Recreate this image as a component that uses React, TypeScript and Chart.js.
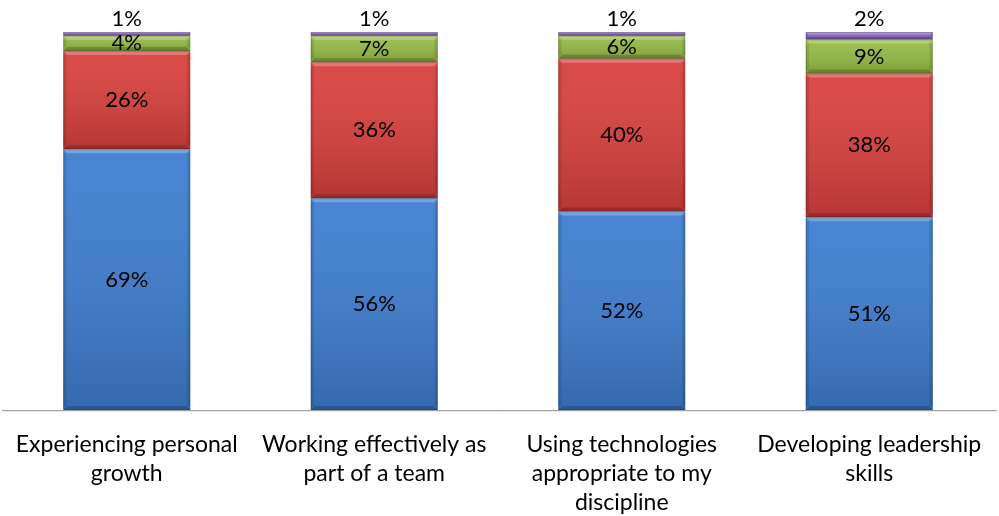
import { useEffect, useRef } from 'react';
import { Chart, registerables } from 'chart.js';

Chart.register(...registerables);

const categories: string[][] = [
  ['Experiencing personal', 'growth'],
  ['Working effectively as', 'part of a team'],
  ['Using technologies', 'appropriate to my', 'discipline'],
  ['Developing leadership', 'skills'],
];
const seriesBlue = [69, 56, 52, 51];
const seriesRed = [26, 36, 40, 38];
const seriesGreen = [4, 7, 6, 9];
const seriesPurple = [1, 1, 1, 2];

const allSeries = [seriesBlue, seriesRed, seriesGreen, seriesPurple];
const totals = categories.map((_, i) => allSeries.reduce((s, a) => s + a[i], 0));
// 100% stacked: each bar is scaled to its own total
const pct = (arr: number[]) => arr.map((v, i) => (v / totals[i]) * 100);

const colors = ['#3D7DCF', '#D8403D', '#96BB46', '#8A66C0'];
const FONT = 'Lato, "Noto Sans", sans-serif';

const bevelPlugin = {
  id: 'bevel',
  afterDatasetsDraw(chart: any) {
    const ctx = chart.ctx as CanvasRenderingContext2D;
    chart.data.datasets.forEach((_ds: any, di: number) => {
      const meta = chart.getDatasetMeta(di);
      meta.data.forEach((bar: any) => {
        const { x, y, base, width } = bar.getProps(['x', 'y', 'base', 'width'], true);
        const left = x - width / 2;
        const top = Math.min(y, base);
        const h = Math.abs(base - y);
        if (h < 1) return;
        ctx.save();
        const g = ctx.createLinearGradient(0, top, 0, top + h);
        g.addColorStop(0, 'rgba(255,255,255,0.06)');
        g.addColorStop(1, 'rgba(0,0,0,0.16)');
        ctx.fillStyle = g;
        ctx.fillRect(left, top, width, h);
        const e = Math.min(4, h / 3);
        ctx.fillStyle = 'rgba(255,255,255,0.25)';
        ctx.beginPath();
        ctx.moveTo(left, top);
        ctx.lineTo(left + width, top);
        ctx.lineTo(left + width - e, top + e);
        ctx.lineTo(left + e, top + e);
        ctx.closePath();
        ctx.fill();
        ctx.fillStyle = 'rgba(0,0,0,0.10)';
        ctx.fillRect(left, top + e, e * 0.8, h - 2 * e);
        ctx.fillRect(left + width - e * 0.8, top + e, e * 0.8, h - 2 * e);
        ctx.fillStyle = 'rgba(0,0,0,0.18)';
        ctx.beginPath();
        ctx.moveTo(left, top + h);
        ctx.lineTo(left + width, top + h);
        ctx.lineTo(left + width - e, top + h - e);
        ctx.lineTo(left + e, top + h - e);
        ctx.closePath();
        ctx.fill();
        ctx.strokeStyle = 'rgba(0,0,0,0.15)';
        ctx.lineWidth = 1;
        ctx.strokeRect(left + 0.5, top + 0.5, width - 1, h - 1);
        ctx.restore();
      });
    });
  },
};

const axisLinePlugin = {
  id: 'axisLine',
  afterDatasetsDraw(chart: any) {
    const ctx = chart.ctx as CanvasRenderingContext2D;
    const yb = Math.round(chart.chartArea.bottom) + 0.5;
    ctx.save();
    ctx.strokeStyle = '#A0A0A0';
    ctx.lineWidth = 1;
    ctx.beginPath();
    ctx.moveTo(2, yb);
    ctx.lineTo(997, yb);
    ctx.stroke();
    ctx.strokeStyle = 'rgba(0,0,0,0.08)';
    ctx.beginPath();
    ctx.moveTo(2, yb + 1);
    ctx.lineTo(997, yb + 1);
    ctx.stroke();
    ctx.restore();
  },
};

const labelPlugin = {
  id: 'segLabels',
  afterDraw(chart: any) {
    const ctx = chart.ctx as CanvasRenderingContext2D;
    ctx.save();
    ctx.font = `22px ${FONT}`;
    ctx.fillStyle = '#000';
    ctx.textAlign = 'center';
    ctx.textBaseline = 'middle';
    chart.data.datasets.forEach((ds: any, di: number) => {
      const meta = chart.getDatasetMeta(di);
      meta.data.forEach((bar: any, i: number) => {
        const v = allSeries[di][i];
        const { x, y, base } = bar.getProps(['x', 'y', 'base'], true);
        let cy = (y + base) / 2;
        if (v < 3) cy = y - 13;
        ctx.fillText(`${v}%`, x, cy);
      });
    });
    ctx.restore();
  },
};

export default function App() {
  const ref = useRef<HTMLCanvasElement>(null);
  useEffect(() => {
    document.body.style.margin = '0';
    const chart = new Chart(ref.current!, {
      type: 'bar',
      data: {
        labels: categories,
        datasets: [
          { label: 'A', data: pct(seriesBlue), backgroundColor: colors[0] },
          { label: 'B', data: pct(seriesRed), backgroundColor: colors[1] },
          { label: 'C', data: pct(seriesGreen), backgroundColor: colors[2] },
          { label: 'D', data: pct(seriesPurple), backgroundColor: colors[3] },
        ],
      },
      options: {
        animation: false,
        responsive: false,
        layout: { padding: { top: 32, left: 3, right: 6, bottom: 0 } },
        categoryPercentage: 0.513,
        barPercentage: 1,
        plugins: { legend: { display: false }, tooltip: { enabled: false } },
        scales: {
          x: {
            stacked: true,
            grid: { display: false, drawTicks: false },
            border: { display: false },
            ticks: {
              color: '#000',
              font: { family: FONT, size: 23, lineHeight: 29 / 23 },
              padding: 20,
              maxRotation: 0,
              autoSkip: false,
            },
            afterFit: (s: any) => {
              s.height = 106;
              s.paddingLeft = 0;
              s.paddingRight = 0;
            },
          },
          y: { stacked: true, display: false, min: 0, max: 100 },
        },
      } as any,
      plugins: [axisLinePlugin, bevelPlugin, labelPlugin],
    });
    return () => chart.destroy();
  }, []);
  return <canvas ref={ref} width={999} height={516} style={{ display: 'block' }} />;
}
